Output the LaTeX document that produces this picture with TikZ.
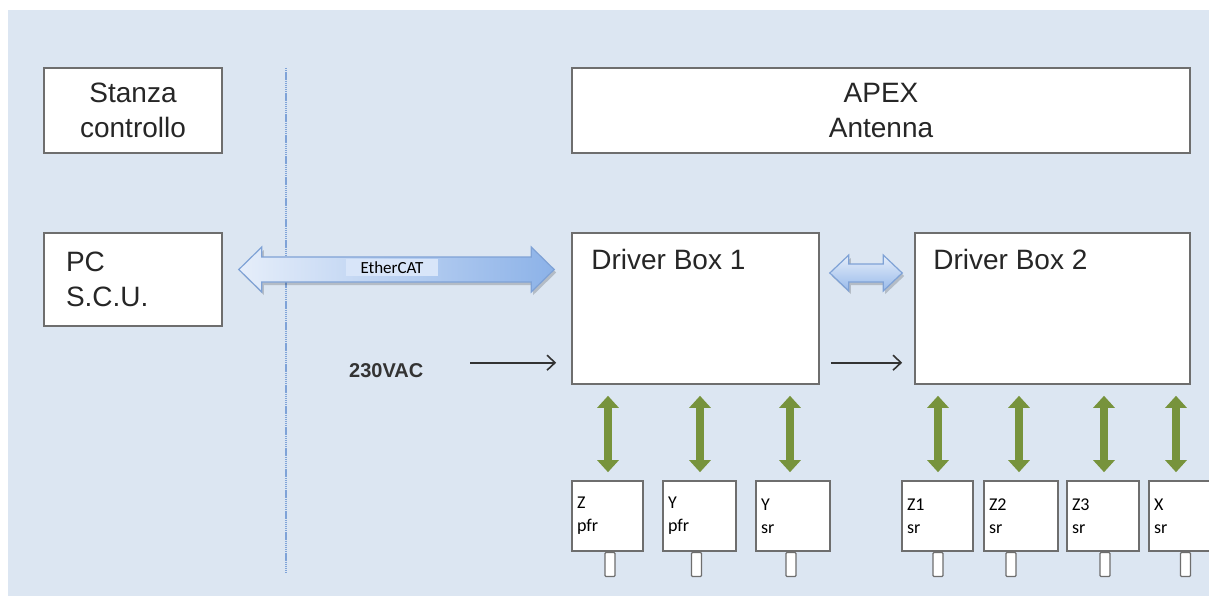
\documentclass[tikz,border=0pt]{standalone}
\usepackage{fontspec}
\setmainfont{Liberation Sans}
\newfontfamily\calib{Carlito}
\usetikzlibrary{arrows.meta,calc}
\definecolor{bgblue}{HTML}{DCE6F2}
\definecolor{boxgray}{HTML}{6E6E6E}
\definecolor{dotblue}{HTML}{7FA3D8}
\definecolor{garrow}{HTML}{77933C}
\definecolor{arrline}{HTML}{7FA2D6}
\definecolor{ethL}{HTML}{E6EEFA}
\definecolor{ethR}{HTML}{8CB2E8}
\definecolor{ethhl}{HTML}{D8E5F9}
\definecolor{txt}{HTML}{262626}
\newcommand\fatdbl[6]{%
  \path[#1] (#2) -- ($(#2)+(#4,-#5)$) -- ($(#2)+(#4,-#6)$) -- ($(#3)+(-#4,-#6)$)
    -- ($(#3)+(-#4,-#5)$) -- (#3) -- ($(#3)+(-#4,#5)$) -- ($(#3)+(-#4,#6)$)
    -- ($(#2)+(#4,#6)$) -- ($(#2)+(#4,#5)$) -- cycle;}
\begin{document}
\begin{tikzpicture}[x=1pt,y=-1pt,
  box/.style={draw=boxgray,line width=1.6pt,fill=white,inner sep=0pt,text=txt},
  bigfont/.style={font=\fontsize{28}{35}\selectfont},
  sbox/.style={box,minimum height=70pt,inner xsep=5pt,align=left,
    font=\calib\fontsize{18}{23}\selectfont,text=black},
  stubbox/.style={draw=boxgray,line width=1.3pt,fill=white,minimum width=10pt,
    minimum height=24pt,inner sep=0pt,anchor=north,rounded corners=1pt},
  garr/.style={draw=garrow,line width=8pt,
    {Triangle[length=12pt,width=21pt]}-{Triangle[length=12pt,width=21pt]}},
  thinarr/.style={draw=black!80,line width=1.6pt,-{Straight Barb[length=8pt,width=15pt]}},
  shadowarr/.style={fill=black,opacity=0.18,transform canvas={shift={(2,3)}}},
]
\useasboundingbox (0,0) rectangle (1209,596);
\clip (0,0) rectangle (1209,596);
\fill[bgblue] (8,10) rectangle (1209,596);

% divider
\coordinate (divT) at (286,68);
\coordinate (divB) at (286,573);
\draw[dotblue,line width=2.2pt,dash pattern=on 1.4pt off 0.7pt] (divT) -- (divB);

% main boxes
\node[box,bigfont,minimum width=178pt,minimum height=85pt,align=center] (stanza) at (133,110.5) {Stanza\\controllo};
\node[box,bigfont,minimum width=618pt,minimum height=85pt,align=center] (apex) at (881,110.5) {APEX\\Antenna};
\node[box,bigfont,minimum height=93pt,text width=134pt,inner xsep=22pt,align=left] (pc) at (133,279.5) {PC\\S.C.U.};
\node[box,minimum width=247pt,minimum height=151pt] (db1) at (695.5,308.5) {};
\node[bigfont,anchor=base west,inner sep=0pt,text=txt] (db1t) at ($(db1.north west)+(20,37)$) {Driver Box 1};
\node[box,minimum width=275pt,minimum height=151pt] (db2) at (1052.5,308.5) {};
\node[bigfont,anchor=base west,inner sep=0pt,text=txt] (db2t) at ($(db2.north west)+(19,37)$) {Driver Box 2};

% EtherCAT arrow
\coordinate (eL) at ($(pc.east)+(16,-10)$);
\coordinate (eR) at ($(db1.west |- eL)+(-17,0)$);
\fatdbl{shadowarr}{eL}{eR}{23}{22.5}{12.5}
\fatdbl{left color=ethL,right color=ethR,draw=arrline,line width=1.2pt}{eL}{eR}{23}{22.5}{12.5}
\node[font=\calib\fontsize{17}{17}\selectfont,fill=ethhl,inner xsep=15pt,inner ysep=2.5pt,anchor=base] (eth) at (392,273.5) {EtherCAT};

% Driver box link
\coordinate (lL) at ($(db1.east)+(10,-35.5)$);
\coordinate (lR) at ($(db2.west |- lL)+(-12,0)$);
\fatdbl{shadowarr}{lL}{lR}{19}{18}{9}
\fatdbl{top color=ethL,bottom color=ethR!90,draw=arrline,line width=1.2pt}{lL}{lR}{19}{18}{9}

% power
\node[font=\bfseries\fontsize{20}{20}\selectfont,anchor=base west,inner sep=0pt,text=black!80] (vac) at (349,377) {230VAC};
\coordinate (acin) at (470,362.7);
\draw[thinarr,shorten >=15pt] (acin) -- (acin -| db1.west);
\draw[thinarr,shorten <=11pt,shorten >=12pt] (db1.east |- acin) -- (db2.west |- acin);

% small boxes
\node[sbox,text width=61pt] (s1) at (607.5,516) {Z\\pfr};
\node[sbox,text width=63pt] (s2) at (699.5,516) {Y\\pfr};
\node[sbox,text width=64pt] (s3) at (793,516) {Y\\sr};
\node[sbox,text width=61pt] (s4) at (937.5,516) {Z1\\sr};
\node[sbox,text width=64pt] (s5) at (1021,516) {Z2\\sr};
\node[sbox,text width=62pt] (s6) at (1103,516) {Z3\\sr};
\node[sbox,text width=63pt] (s7) at (1185.5,516) {X\\sr};

\foreach \nm/\db/\ax/\sx in {s1/db1/0.5/2.5, s2/db1/0.5/-3, s3/db1/-3/-2,
    s4/db2/0.5/0.5, s5/db2/-2/-10, s6/db2/1/2, s7/db2/-9.5/0}{
  \draw[garr] ($(\nm.north)+(\ax,-8)$) -- ($(\nm.north |- \db.south)+(\ax,11)$);
  \node[stubbox] (\nm st) at ($(\nm.south)+(\sx,0)$) {};
}
\end{tikzpicture}
\end{document}
